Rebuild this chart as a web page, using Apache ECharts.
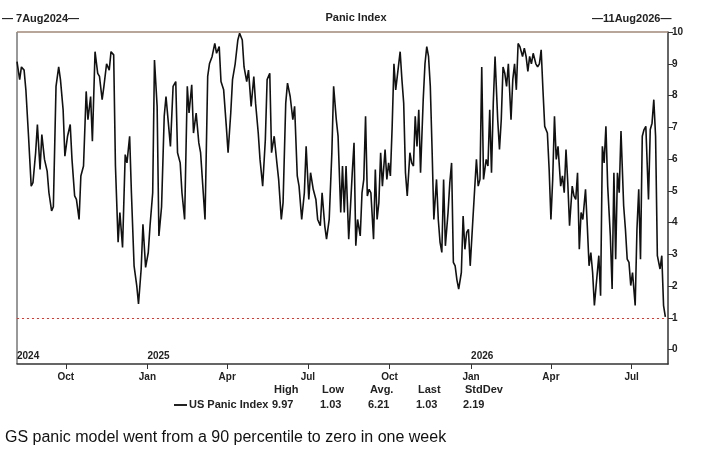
<!DOCTYPE html>
<html><head><meta charset="utf-8">
<script src="https://cdn.jsdelivr.net/npm/echarts@6/dist/echarts.min.js"></script>
<style>html,body{margin:0;background:#fff}#chart-container{width:712px;height:450px}</style>
</head><body><div id="chart-container"></div>
<script>
// Panic index readings, Aug 2024 - Aug 2025 (first half) and Aug 2025 - Aug 2026 (second half)
var valuesA = [9.07,8.5,8.9,8.8,8.18,6.72,5.15,5.26,6.2,7.09,5.67,6.77,5.99,5.62,4.94,4.37,4.5,8.29,8.9,8.5,7.55,6.09,6.72,7.09,5.99,4.84,4.73,4.1,5.47,5.78,8.13,7.24,7.97,6.56,9.38,8.7,8.6,7.87,8.29,9.0,8.8,9.38,9.28,5.78,3.38,4.32,3.22,6.14,5.88,6.72,4.94,2.64,2.02,1.44,2.54,3.95,2.59,3.06,3.9,4.94,9.12,7.66,3.58,4.5,7.35,7.97,7.03,6.4,8.29,8.44,6.2,5.88,4.94,4.1,8.29,7.45,8.34,6.82,7.45,6.51,6.2,4.94,4.1,8.6,9.0,9.23,9.64,9.33,9.54,8.44,8.18,7.03,6.2,7.45,8.5,9.0,9.75,9.96,9.75,8.9,8.44,8.8,7.66,8.6,7.76,6.82,5.99,5.15,6.61,8.5,8.7,6.2,6.72,5.88,5.36,4.1,4.63,7.76,8.39,7.97,7.24,7.66,5.47,5.15,4.1,4.94,6.4,4.73,5.57,5.05,4.73,4.1,3.9,4.94,3.9,3.48,4.1,6.2,8.29,7.24,6.72,4.32];
var valuesB = [5.78,4.32,5.78,3.48,4.5,5.57,6.51,3.27,4.1,3.58,4.94,5.36,7.35,4.84,5.05,4.94,3.48,5.67,4.1,4.63,6.2,5.15,6.3,5.36,5.88,5.47,7.03,9.0,8.18,8.9,9.38,8.5,7.76,5.57,4.84,6.2,5.88,5.78,7.35,6.4,7.55,5.57,7.87,9.0,9.54,9.23,8.29,6.3,4.1,5.36,4.1,3.38,3.06,5.36,3.27,4.32,5.26,5.88,2.75,2.64,2.2,1.91,2.43,4.21,3.16,3.69,3.79,2.64,4.1,5.05,5.99,5.15,5.36,8.9,5.36,5.99,5.78,7.55,5.57,7.76,9.23,7.24,6.3,7.24,8.9,8.7,8.29,9.0,7.24,8.5,9.0,8.18,9.64,9.54,9.23,9.49,9.23,8.76,9.23,9.0,9.33,9.0,8.9,9.0,9.44,8.18,7.03,6.82,5.67,4.1,5.36,7.35,5.99,6.4,5.15,5.47,4.94,6.3,5.26,3.9,5.15,4.84,4.73,5.57,3.16,4.32,4.1,5.05,3.9,2.64,3.06,2.43,1.39,2.02,2.96,1.7,6.4,5.88,7.03,5.15,3.58,1.91,5.57,2.85,5.57,4.94,6.88,4.53,3.79,2.85,2.75,2.02,2.43,1.39,3.79,5.05,2.85,6.72,6.93,7.03,4.73,6.93,7.13,7.87,6.72,2.96,2.54,2.96,1.39,1.03];
var startDate = '2024-08-07', midDate = '2025-08-07', lastDate = '2026-08-08', endDate = '2026-08-11';
var yLabels = [0,1,2,3,4,5,6,7,8,9,10];
var stats = { High: '9.97', Low: '1.03', 'Avg.': '6.21', Last: '1.03', StdDev: '2.19' };

var DAY = 86400000;
function dstr(t) { return echarts.time.format(t, '{yyyy}-{MM}-{dd}', true); }
function ts(s) { return Date.parse(s + 'T00:00:00Z'); }
var days = [];
for (var t = ts(startDate); t <= ts(endDate); t += DAY) days.push(dstr(t));
function place(vals, a, b, skipFirst) {
  var out = [], t0 = ts(a), t1 = ts(b);
  vals.forEach(function (v, i) {
    var t = t0 + Math.round((t1 - t0) * (i + (skipFirst ? 1 : 0)) / (vals.length - (skipFirst ? 0 : 1)) / DAY) * DAY;
    out.push([dstr(t), v]);
  });
  return out;
}
var data = place(valuesA, startDate, midDate, false).concat(place(valuesB, midDate, lastDate, true));
var qMonths = { '01': 'Jan', '04': 'Apr', '07': 'Jul', '10': 'Oct' };
function isQuarter(i, d) { return d.slice(8) === '01' && qMonths[d.slice(5, 7)]; }

var myChart = echarts.init(document.getElementById('chart-container'));
var font = 'Liberation Sans Narrow, Arial Narrow, Liberation Sans, sans-serif';
myChart.setOption({
  animation: false,
  textStyle: { fontFamily: font },
  grid: { left: 17, right: 44, top: 32, bottom: 86 },
  xAxis: [{
    type: 'category', data: days, boundaryGap: false,
    axisLine: { onZero: false, lineStyle: { color: '#333', width: 1.5 } },
    axisTick: { interval: isQuarter, length: 5, lineStyle: { color: '#333' } },
    axisLabel: { interval: isQuarter, formatter: function (d) { return qMonths[d.slice(5, 7)]; },
      color: '#222', fontSize: 10, fontWeight: 'bold', margin: 8 },
    splitLine: { show: false }
  }, {
    type: 'category', data: days, boundaryGap: false, position: 'bottom',
    axisLine: { show: false, onZero: false }, axisTick: { show: false },
    axisLabel: { inside: true, interval: function (i, d) { return i === 0 || d.slice(5) === '01-01'; },
      formatter: function (d) { return d.slice(0, 4); }, align: 'left', margin: 3,
      color: '#222', fontSize: 10, fontWeight: 'bold' }
  }],
  yAxis: {
    type: 'value', min: -0.45, max: 10, position: 'right',
    axisLine: { show: true, lineStyle: { color: '#333', width: 1.5 } },
    axisTick: { show: true, customValues: yLabels, length: 5, lineStyle: { color: '#333' } },
    axisLabel: { customValues: yLabels, color: '#222', fontSize: 10, fontWeight: 'bold', margin: 4 },
    splitLine: { show: false }
  },
  series: [{
    type: 'line', data: data, showSymbol: false, symbol: 'none',
    lineStyle: { color: '#111', width: 1.6 },
    markLine: { silent: true, symbol: 'none', label: { show: false },
      lineStyle: { color: '#e8332a', type: [2, 3], width: 1 }, data: [{ yAxis: 1 }] }
  }, {
    type: 'line', data: [], markLine: { silent: true, symbol: 'none', label: { show: false },
      lineStyle: { color: '#a08878', type: 'solid', width: 1.5 }, data: [{ yAxis: 10 }] }
  }],
  graphic: [
    { type: 'line', shape: { x1: 17, y1: 32, x2: 17, y2: 364 }, style: { stroke: '#333', lineWidth: 1 } },
    { type: 'text', left: 'center', top: 12, style: { text: 'Panic Index', font: 'bold 11px ' + font, fill: '#222' } },
    { type: 'text', x: 2, y: 13, style: { text: '\u2014 7Aug2024\u2014', font: 'bold 11px ' + font, fill: '#222' } },
    { type: 'text', x: 592, y: 13, style: { text: '\u201411Aug2026\u2014', font: 'bold 11px ' + font, fill: '#222' } },
    { type: 'line', shape: { x1: 174, y1: 405, x2: 187, y2: 405 }, style: { stroke: '#222', lineWidth: 2 } },
    { type: 'text', x: 189, y: 399, style: { text: 'US Panic Index', font: 'bold 11px ' + font, fill: '#222' } }
  ].concat(Object.keys(stats).map(function (k, i) {
    var xs = [274, 322, 370, 418, 465];
    return { type: 'group', children: [
      { type: 'text', x: xs[i], y: 384, style: { text: k, font: 'bold 11px ' + font, fill: '#222' } },
      { type: 'text', x: xs[i] - 2, y: 399, style: { text: stats[k], font: 'bold 11px ' + font, fill: '#222' } }
    ] };
  })).concat([
    { type: 'text', x: 5, y: 430, style: { text: 'GS panic model went from a 90 percentile to zero in one week', font: '16px Liberation Sans, Arial, sans-serif', fill: '#111' } }
  ])
});
</script></body></html>
